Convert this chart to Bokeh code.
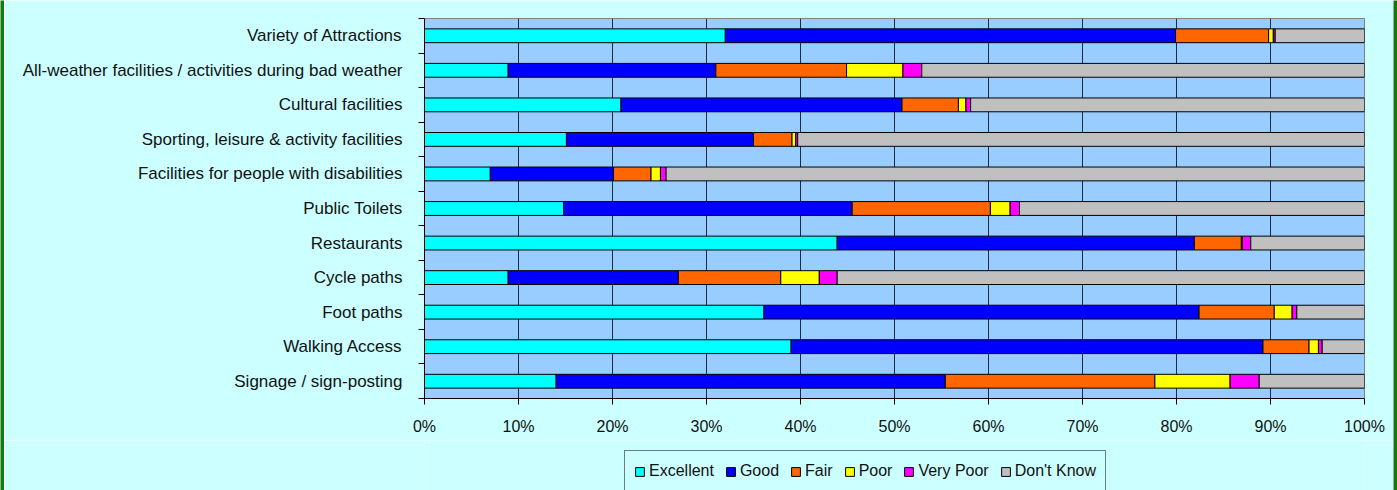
from bokeh.plotting import figure
from bokeh.models import (ColumnDataSource, FixedTicker, PrintfTickFormatter, Legend,
                          LegendItem, Range1d)
from bokeh.layouts import row, column
from bokeh.embed import file_html
from bokeh.resources import INLINE

categories = ["Variety of Attractions",
              "All-weather facilities / activities during bad weather",
              "Cultural facilities",
              "Sporting, leisure & activity facilities",
              "Facilities for people with disabilities",
              "Public Toilets",
              "Restaurants",
              "Cycle paths",
              "Foot paths",
              "Walking Access",
              "Signage / sign-posting"]
excellent = [32.0, 8.9, 20.9, 15.1, 7.0, 14.8, 43.9, 8.9, 36.1, 39.0, 14.0]
good = [47.9, 22.1, 29.9, 19.9, 13.1, 30.7, 38.0, 18.1, 46.3, 50.2, 41.4]
fair = [9.9, 13.9, 6.0, 4.1, 4.0, 14.7, 5.0, 10.9, 8.0, 4.9, 22.3]
poor = [0.5, 6.0, 0.8, 0.4, 1.0, 2.1, 0.1, 4.1, 1.9, 1.0, 8.0]
very_poor = [0.2, 2.0, 0.5, 0.2, 0.6, 1.0, 0.9, 1.9, 0.5, 0.4, 3.1]
dont_know = [9.5, 47.1, 41.9, 60.3, 74.3, 36.7, 12.1, 56.1, 7.2, 4.5, 11.2]
series_names = ["Excellent", "Good", "Fair", "Poor", "Very Poor", "Don't Know"]
series_keys = ["excellent", "good", "fair", "poor", "very_poor", "dont_know"]
colors = ["#00FFFF", "#0000FF", "#FF6600", "#FFFF00", "#FF00FF", "#C0C0C0"]
x_ticks = [0, 10, 20, 30, 40, 50, 60, 70, 80, 90, 100]

n = len(categories)
ypos = [n - 0.5 - i for i in range(n)]
source = ColumnDataSource(dict(y=ypos, excellent=excellent, good=good, fair=fair,
                               poor=poor, very_poor=very_poor, dont_know=dont_know))

FONT = "Liberation Sans"
BG = "#CCFFFF"
GREEN = "#117A11"

# ---- main chart ----
p = figure(width=1389, height=440, output_backend="svg", toolbar_location=None,
           x_range=Range1d(0, 100), y_range=Range1d(0, n),
           min_border_left=420, min_border_right=29, min_border_top=18,
           min_border_bottom=42)
p.background_fill_color = "#99CCFF"
p.border_fill_color = BG
p.outline_line_color = "#808080"

p.hbar_stack(series_keys, y="y", height=0.4, color=colors,
             line_color="black", line_width=1, source=source)

p.xaxis.ticker = FixedTicker(ticks=x_ticks)
p.xaxis.formatter = PrintfTickFormatter(format="%d%%")
p.xaxis.axis_line_color = "black"
p.xaxis.major_tick_line_color = "black"
p.xaxis.major_tick_out = 6
p.xaxis.major_tick_in = 0
p.xaxis.minor_tick_line_color = None
p.xaxis.major_label_text_font = FONT
p.xaxis.major_label_text_font_size = "16px"
p.xaxis.major_label_text_color = "#111111"
p.xaxis.major_label_standoff = 13

p.yaxis.ticker = FixedTicker(ticks=ypos, minor_ticks=list(range(n + 1)))
p.yaxis.major_label_overrides = {y: c for y, c in zip(ypos, categories)}
p.yaxis.axis_line_color = "black"
p.yaxis.major_tick_line_color = None
p.yaxis.major_tick_out = 0
p.yaxis.major_tick_in = 0
p.yaxis.minor_tick_line_color = "black"
p.yaxis.minor_tick_out = 6
p.yaxis.minor_tick_in = 0
p.yaxis.major_label_text_font = FONT
p.yaxis.major_label_text_font_size = "17px"
p.yaxis.major_label_text_color = "#111111"
p.yaxis.major_label_standoff = 16

p.xgrid.ticker = FixedTicker(ticks=x_ticks)
p.xgrid.grid_line_color = "#1E2A40"
p.xgrid.grid_line_width = 1
p.ygrid.grid_line_color = None

# ---- legend strip ----
lg = figure(width=1389, height=50, output_backend="svg", toolbar_location=None,
            x_range=Range1d(1000, 1001), y_range=Range1d(1000, 1001),
            x_axis_location=None, y_axis_location=None, min_border=0)
lg.background_fill_color = BG
lg.border_fill_color = BG
lg.outline_line_color = None
lg.grid.grid_line_color = None
leg_renderers = lg.hbar_stack(series_keys, y="y", height=0.4, color=colors,
                              line_color="black", line_width=1, source=source)

legend = Legend(items=[LegendItem(label=nm, renderers=[r])
                       for nm, r in zip(series_names, leg_renderers)],
                orientation="horizontal", location=(200, -2))
legend.label_text_font = FONT
legend.label_text_font_size = "16px"
legend.label_text_color = "#111111"
legend.glyph_width = 11
legend.glyph_height = 11
legend.label_standoff = 4
legend.spacing = 11
legend.padding = 9
legend.margin = 0
legend.label_height = 22
legend.border_line_color = "black"
legend.border_line_width = 1
legend.background_fill_color = BG
legend.background_fill_alpha = 1
lg.add_layout(legend, "center")

# ---- green frame edges ----
def edge():
    e = figure(width=4, height=490, output_backend="svg", toolbar_location=None,
               x_axis_location=None, y_axis_location=None, min_border=0)
    e.background_fill_color = GREEN
    e.border_fill_color = GREEN
    e.outline_line_color = None
    e.grid.grid_line_color = None
    return e

layout = row(edge(), column(p, lg), edge())

open("out.html", "w").write(file_html(layout, INLINE))
